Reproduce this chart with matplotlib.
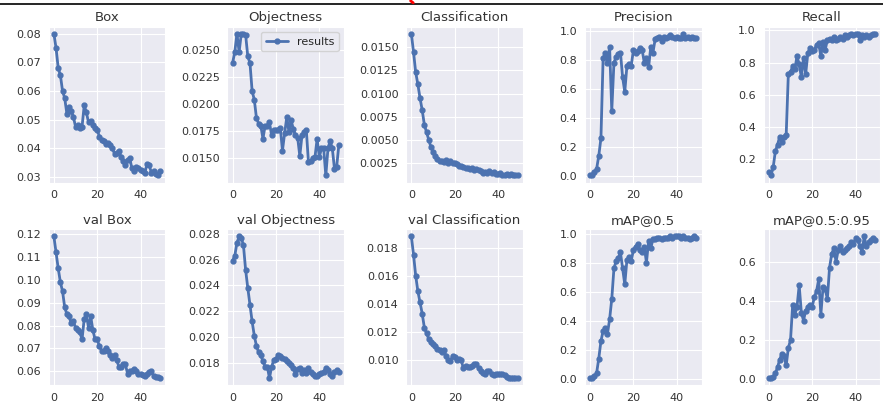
import matplotlib
matplotlib.use("Agg")
import numpy as np
import seaborn as sns
from matplotlib import pyplot as plt
from matplotlib.lines import Line2D

epochs = np.arange(50)

titles = ["Box", "Objectness", "Classification", "Precision", "Recall",
          "val Box", "val Objectness", "val Classification", "mAP@0.5", "mAP@0.5:0.95"]

box = [0.080, 0.075, 0.068, 0.0655, 0.060, 0.0575, 0.052, 0.0545, 0.053, 0.051,
       0.0475, 0.048, 0.047, 0.0475, 0.055, 0.0525, 0.049, 0.0495, 0.048, 0.047,
       0.0465, 0.044, 0.043, 0.0425, 0.0415, 0.042, 0.041, 0.040, 0.038, 0.0385,
       0.039, 0.037, 0.0355, 0.034, 0.036, 0.0365, 0.033, 0.032, 0.0335, 0.033,
       0.0325, 0.032, 0.0315, 0.0345, 0.034, 0.0315, 0.032, 0.031, 0.0305, 0.032]
objectness = [0.0238, 0.0248, 0.0265, 0.0248, 0.0265, 0.0265, 0.0264, 0.0244, 0.0238, 0.0212,
              0.0204, 0.0187, 0.0182, 0.0180, 0.0168, 0.0180, 0.0180, 0.0183, 0.0171, 0.0176,
              0.0176, 0.0176, 0.0178, 0.0157, 0.0173, 0.0188, 0.0174, 0.0185, 0.0177, 0.0171,
              0.0169, 0.0152, 0.0171, 0.0174, 0.0176, 0.0146, 0.0147, 0.0150, 0.0151, 0.0168,
              0.0151, 0.0159, 0.0159, 0.0134, 0.0159, 0.0166, 0.0159, 0.0140, 0.0142, 0.0162]
classification = [0.0165, 0.0145, 0.0123, 0.0110, 0.0095, 0.0082, 0.0066, 0.0058, 0.0050, 0.0042,
                  0.0037, 0.0032, 0.0029, 0.0027, 0.0027, 0.0026, 0.0028, 0.0025, 0.0027, 0.0025,
                  0.0024, 0.0023, 0.0021, 0.0021, 0.0020, 0.0019, 0.0019, 0.0018, 0.0019, 0.0017,
                  0.0018, 0.0017, 0.0016, 0.0014, 0.0015, 0.0014, 0.0016, 0.0014, 0.0015, 0.0013,
                  0.0013, 0.0014, 0.0011, 0.0012, 0.0013, 0.0011, 0.0013, 0.0012, 0.0011, 0.0012]
precision = [0.005, 0.01, 0.03, 0.05, 0.14, 0.26, 0.81, 0.85, 0.78, 0.89,
             0.45, 0.78, 0.82, 0.84, 0.85, 0.68, 0.58, 0.76, 0.77, 0.76,
             0.87, 0.85, 0.86, 0.88, 0.87, 0.78, 0.81, 0.75, 0.89, 0.85,
             0.94, 0.95, 0.96, 0.93, 0.96, 0.95, 0.96, 0.97, 0.96, 0.95,
             0.96, 0.95, 0.95, 0.98, 0.95, 0.96, 0.95, 0.96, 0.95, 0.95]
recall = [0.12, 0.10, 0.15, 0.25, 0.29, 0.34, 0.31, 0.34, 0.35, 0.73,
          0.74, 0.78, 0.76, 0.84, 0.79, 0.71, 0.83, 0.73, 0.86, 0.89,
          0.87, 0.88, 0.91, 0.92, 0.84, 0.93, 0.88, 0.94, 0.95, 0.94,
          0.96, 0.94, 0.95, 0.96, 0.95, 0.97, 0.96, 0.97, 0.98, 0.97,
          0.98, 0.98, 0.94, 0.97, 0.96, 0.97, 0.96, 0.97, 0.98, 0.98]
val_box = [0.119, 0.112, 0.105, 0.099, 0.095, 0.088, 0.085, 0.084, 0.081, 0.082,
           0.079, 0.078, 0.077, 0.074, 0.083, 0.085, 0.079, 0.084, 0.078, 0.074,
           0.074, 0.071, 0.069, 0.069, 0.070, 0.069, 0.067, 0.066, 0.067, 0.065,
           0.062, 0.062, 0.063, 0.063, 0.059, 0.060, 0.060, 0.061, 0.060, 0.059,
           0.059, 0.0585, 0.058, 0.059, 0.0595, 0.060, 0.058, 0.0575, 0.0575, 0.057]
val_objectness = [0.0259, 0.0263, 0.0273, 0.0278, 0.0277, 0.0271, 0.0252, 0.0238, 0.0225, 0.0212,
                  0.0201, 0.0193, 0.0188, 0.0186, 0.0181, 0.0177, 0.0177, 0.0168, 0.0177, 0.0182,
                  0.0183, 0.0186, 0.0185, 0.0184, 0.0183, 0.0181, 0.0180, 0.0178, 0.0176, 0.0171,
                  0.0175, 0.0176, 0.0172, 0.0174, 0.0172, 0.0176, 0.0173, 0.0171, 0.0170, 0.0170,
                  0.0171, 0.0172, 0.0173, 0.0176, 0.0174, 0.0171, 0.0170, 0.0173, 0.0174, 0.0173]
val_classification = [0.0188, 0.0175, 0.0160, 0.0149, 0.0141, 0.0133, 0.0123, 0.0119, 0.0115, 0.0113,
                      0.0111, 0.0110, 0.0108, 0.0107, 0.0106, 0.0107, 0.0103, 0.0100, 0.0099, 0.0103,
                      0.0102, 0.0100, 0.0101, 0.0100, 0.0094, 0.0096, 0.0095, 0.0095, 0.0096, 0.0097,
                      0.0097, 0.0094, 0.0092, 0.0091, 0.0090, 0.0092, 0.0092, 0.0090, 0.0089, 0.0090,
                      0.0090, 0.0090, 0.0090, 0.0089, 0.0088, 0.0087, 0.0087, 0.0087, 0.0087, 0.0087]
map50 = [0.005, 0.005, 0.02, 0.04, 0.14, 0.26, 0.33, 0.35, 0.31, 0.41,
         0.55, 0.76, 0.81, 0.83, 0.87, 0.76, 0.65, 0.82, 0.84, 0.81,
         0.89, 0.91, 0.93, 0.89, 0.87, 0.91, 0.80, 0.95, 0.90, 0.96,
         0.96, 0.97, 0.97, 0.96, 0.97, 0.97, 0.97, 0.98, 0.97, 0.98,
         0.98, 0.98, 0.97, 0.98, 0.97, 0.97, 0.96, 0.97, 0.98, 0.97]
map50_95 = [0.005, 0.005, 0.01, 0.03, 0.06, 0.10, 0.13, 0.12, 0.07, 0.16,
            0.20, 0.38, 0.33, 0.37, 0.48, 0.34, 0.30, 0.35, 0.37, 0.38,
            0.37, 0.42, 0.45, 0.51, 0.33, 0.47, 0.46, 0.41, 0.57, 0.64,
            0.67, 0.60, 0.66, 0.68, 0.65, 0.66, 0.67, 0.68, 0.70, 0.69,
            0.72, 0.71, 0.68, 0.65, 0.73, 0.68, 0.70, 0.71, 0.72, 0.71]

series = [box, objectness, classification, precision, recall,
          val_box, val_objectness, val_classification, map50, map50_95]

sns.set_style("darkgrid")
plt.rcParams["font.family"] = ["DejaVu Sans"]
plt.rcParams["xtick.labelsize"] = 8
plt.rcParams["ytick.labelsize"] = 8

fig, axes = plt.subplots(2, 5, figsize=(8.83, 4.09), dpi=100)
fig.subplots_adjust(left=0.055, right=0.997, top=0.935, bottom=0.058, wspace=0.53, hspace=0.3)
for ax, title, y in zip(axes.ravel(), titles, series):
    ax.plot(epochs, y, marker=".", label="results", linewidth=2, markersize=7, color="#4C72B0")
    ax.set_title(title, fontsize=9.5, color=".2", pad=4)
    ax.tick_params(colors=".2", pad=2)
axes[0, 1].legend(fontsize=8, loc="upper right")

# rule across the top of the page, with a clipped red mark
fig.add_artist(Line2D([0, 1], [0.99, 0.99], color="black", linewidth=1.2))
fig.add_artist(Line2D([0.465, 0.468], [0.998, 0.993], color="red", linewidth=2))

fig.savefig("out.png", dpi=100)
